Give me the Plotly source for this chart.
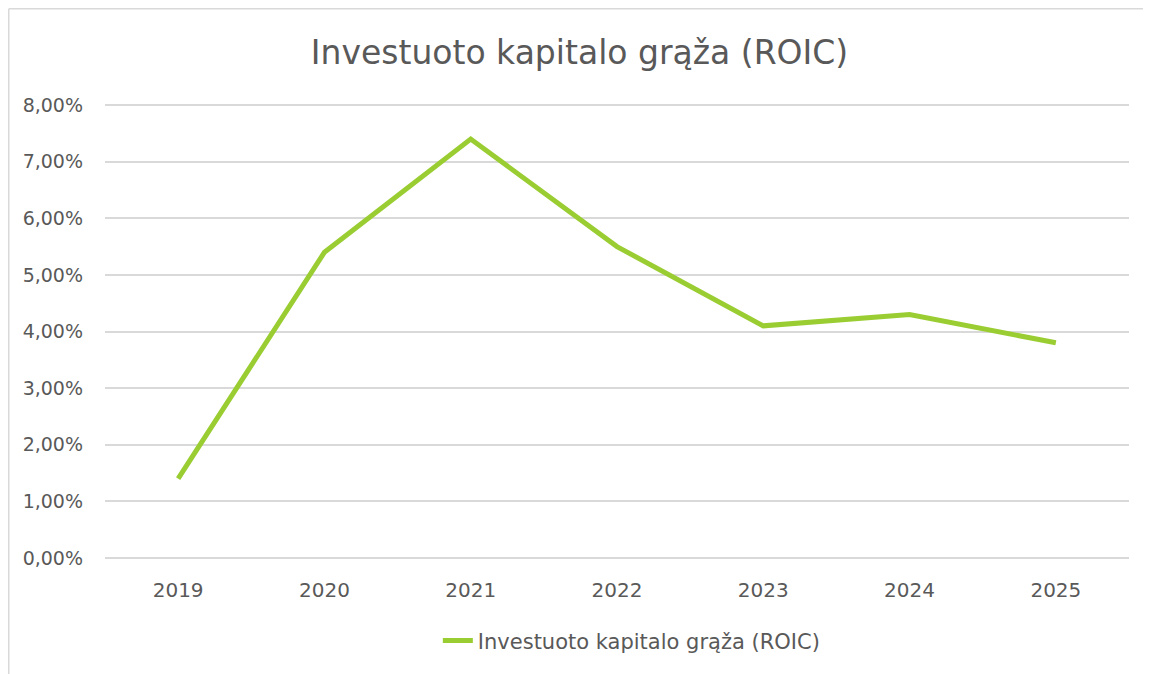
import plotly.graph_objects as go

# ROIC by year
years = ['2019', '2020', '2021', '2022', '2023', '2024', '2025']
roic = [0.014, 0.054, 0.074, 0.055, 0.041, 0.043, 0.038]
series_name = 'Investuoto kapitalo grąža (ROIC)'
y_ticks = [0, 0.01, 0.02, 0.03, 0.04, 0.05, 0.06, 0.07, 0.08]

font_family = 'DejaVu Sans'
grey_text = '#595959'
frame_grey = '#d9d9d9'

fig = go.Figure()
fig.add_trace(go.Scatter(x=years, y=roic, mode='lines', name=series_name,
                         line=dict(color='#9ACD32', width=5)))

fig.update_layout(
    width=1143, height=666,
    margin=dict(l=97, r=22, t=96, b=115),
    paper_bgcolor='white', plot_bgcolor='white',
    separators=',.',
    title=dict(text=series_name, x=0.5, xanchor='center', y=0.934, yanchor='middle',
               font=dict(family=font_family, size=33, color=grey_text)),
    font=dict(family=font_family, color=grey_text),
    showlegend=True,
    legend=dict(orientation='h', x=0.514, xanchor='center', y=-0.18, yanchor='middle',
                font=dict(family=font_family, size=21, color=grey_text)),
)
fig.update_xaxes(type='category', range=[-0.5, 6.5], showgrid=False, showline=False,
                 ticks='', tickfont=dict(size=20, color=grey_text),
                 ticklabelstandoff=17)
fig.update_yaxes(range=[-0.0002, 0.0802], tickvals=y_ticks, tickformat='.2%',
                 showgrid=True, gridcolor=frame_grey, gridwidth=1.5,
                 zeroline=False, showline=False, ticks='',
                 tickfont=dict(size=19, color=grey_text), ticklabelstandoff=21)

# chart frame: only the left and top edges show in the picture
frame_left = (0.75 - 97) / 1024
frame_top = (551 - 0.75) / 455
fig.add_shape(type='line', xref='paper', yref='paper',
              x0=frame_left, x1=frame_left, y0=-0.5, y1=frame_top,
              line=dict(color=frame_grey, width=1.5), layer='below')
fig.add_shape(type='line', xref='paper', yref='paper',
              x0=frame_left, x1=1.5, y0=frame_top, y1=frame_top,
              line=dict(color=frame_grey, width=1.5), layer='below')

fig.write_html('out.html')
